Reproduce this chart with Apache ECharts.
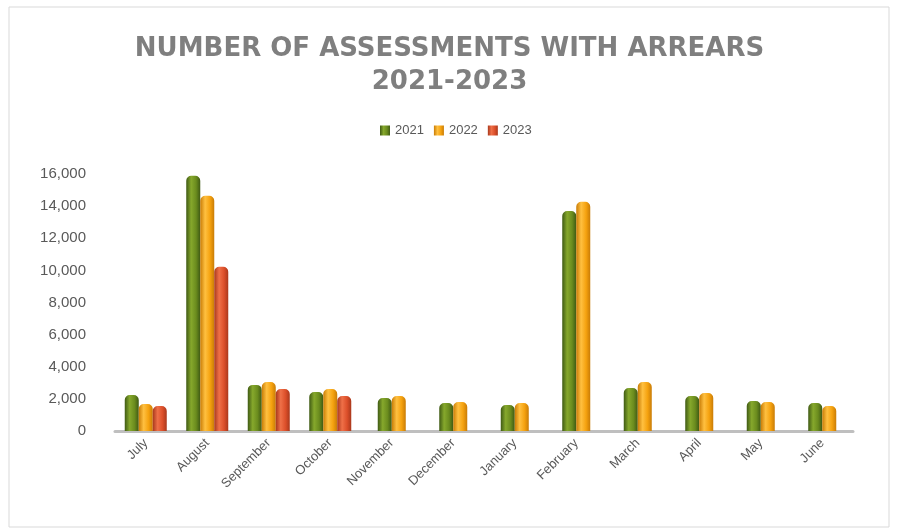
<!DOCTYPE html>
<html lang="en">
<head>
    <meta charset="UTF-8">
    <title>Assessments with arrears</title>
    <script src="https://cdn.jsdelivr.net/npm/echarts@6/dist/echarts.min.js"></script>
</head>
<body style="margin:0">
    <div id="barDiv" style="width: 899px;height:530px;"></div>
    <script>
        var months = ['July', 'August', 'September', 'October', 'November', 'December',
                      'January', 'February', 'March', 'April', 'May', 'June'];
        var y2021 = [2240, 15890, 2870, 2430, 2060, 1740, 1620, 13700, 2680, 2180, 1870, 1740];
        var y2022 = [1680, 14640, 3050, 2620, 2180, 1800, 1740, 14270, 3050, 2370, 1800, 1560];
        var y2023 = [1560, 10220, 2620, 2180, null, null, null, null, null, null, null, null];
        var yTicks = [0, 2000, 4000, 6000, 8000, 10000, 12000, 14000, 16000];

        // cylinder look: dark edges, light middle
        function cyl(dark, mid, light) {
            return {
                type: 'linear', x: 0, y: 0, x2: 1, y2: 0,
                colorStops: [
                    {offset: 0, color: dark},
                    {offset: 0.35, color: light},
                    {offset: 0.7, color: mid},
                    {offset: 1, color: dark}
                ]
            };
        }
        var colGreen = cyl('#3f5a14', '#6b8c1e', '#86a82c');
        var colOrange = cyl('#c97c06', '#f5a20f', '#ffc040');
        var colRed = cyl('#a9381c', '#dc4f2a', '#ef7048');

        // months with 2023 data get three bars, the others two centred bars
        function pick(arr, three) {
            return arr.map(function (v, i) {
                return (y2023[i] != null) === three ? v : '-';
            });
        }

        function bar(name, data, color, axis) {
            return {
                name: name,
                type: 'bar',
                xAxisIndex: axis,
                barWidth: 14,
                barGap: '0%',
                data: data,
                itemStyle: {
                    color: color,
                    borderRadius: [5, 5, 0, 0]
                }
            };
        }

        var mycharts = echarts.init(document.getElementById('barDiv'));
        var option = {
            backgroundColor: '#fff',
            color: ['#6b8c1e', '#f5a20f', '#dc4f2a'],
            graphic: [{
                type: 'rect',
                shape: {x: 9, y: 7, width: 880, height: 520},
                style: {fill: 'none', stroke: '#d9d9d9', lineWidth: 1},
                silent: true
            }],
            title: {
                text: 'NUMBER OF ASSESSMENTS WITH ARREARS\n2021-2023',
                left: 'center',
                top: 28,
                textStyle: {
                    fontFamily: 'DejaVu Sans',
                    fontSize: 26,
                    fontWeight: 'bold',
                    color: '#7f7f7f',
                    lineHeight: 33
                }
            },
            legend: {
                data: ['2021', '2022', '2023'],
                left: 375,
                top: 119,
                itemWidth: 10,
                itemHeight: 10,
                itemGap: 10,
                icon: 'rect',
                textStyle: {color: '#595959', fontSize: 13, fontFamily: 'Liberation Sans'}
            },
            grid: {left: 115, right: 46, top: 174, bottom: 99},
            xAxis: [{
                type: 'category',
                data: months,
                axisLine: {lineStyle: {color: '#bfbfbf', width: 3}},
                axisTick: {show: false},
                axisLabel: {
                    rotate: 45, margin: 10, color: '#595959',
                    fontSize: 13, fontFamily: 'Liberation Sans'
                }
            }, {
                type: 'category',
                data: months,
                show: false
            }],
            yAxis: {
                type: 'value',
                min: yTicks[0],
                max: yTicks[yTicks.length - 1],
                interval: 2000,
                splitLine: {show: false},
                axisLine: {show: false},
                axisTick: {show: false},
                axisLabel: {
                    margin: 29, color: '#595959', fontSize: 15, fontFamily: 'Liberation Sans',
                    formatter: function (v) { return v.toLocaleString('en-US'); }
                }
            },
            series: [
                bar('2021', pick(y2021, true), colGreen, 0),
                bar('2022', pick(y2022, true), colOrange, 0),
                bar('2023', pick(y2023, true), colRed, 0),
                bar('2021', pick(y2021, false), colGreen, 1),
                bar('2022', pick(y2022, false), colOrange, 1)
            ]
        };
        mycharts.setOption(option, true);
    </script>
</body>
</html>
